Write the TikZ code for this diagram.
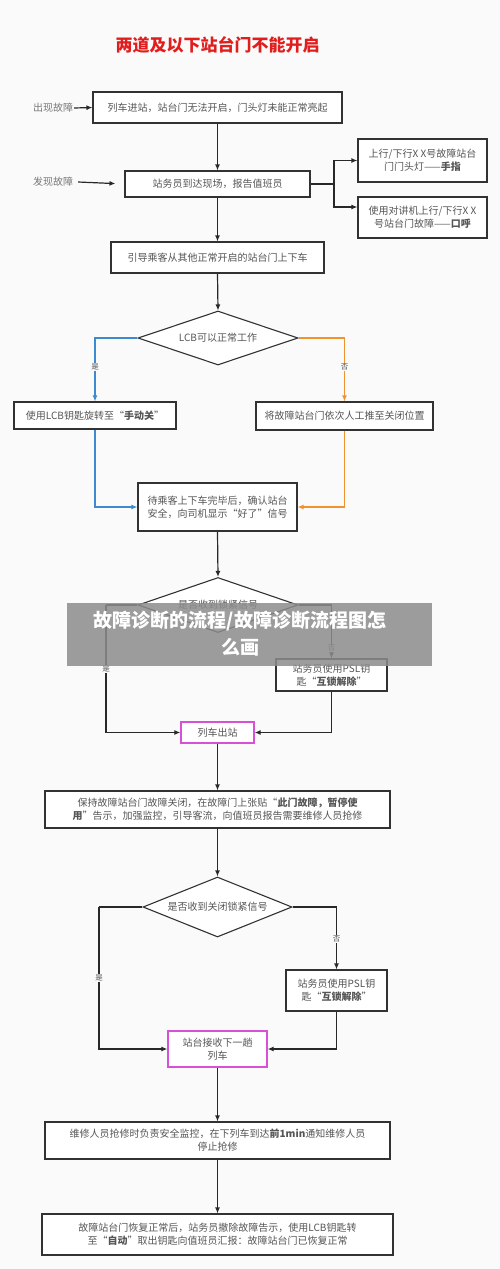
\documentclass[tikz,border=0pt]{standalone}
\usepackage{fontspec}
\setmainfont{Noto Sans CJK SC}
\usetikzlibrary{arrows.meta,shapes.geometric}
\definecolor{bg}{RGB}{250,250,250}
\definecolor{boxc}{RGB}{50,50,50}
\definecolor{txt}{RGB}{85,85,85}
\definecolor{lbl}{RGB}{120,120,120}
\definecolor{linec}{RGB}{40,40,40}
\definecolor{mag}{RGB}{215,80,215}
\definecolor{blueL}{RGB}{60,138,208}
\definecolor{orangeL}{RGB}{240,146,46}
\definecolor{titlered}{RGB}{225,30,30}
\tikzset{
 box/.style={draw=boxc, fill=white, line width=1.1pt, inner sep=1pt, align=center, text=txt, font=\fontsize{10}{13}\selectfont},
 pbox/.style={box, draw=mag, line width=1.3pt},
 dia/.style={diamond, aspect=3, draw=boxc, fill=white, line width=1.1pt, inner sep=0pt, text=txt, font=\fontsize{10}{13}\selectfont},
 conn/.style={draw=linec, line width=1.2pt, -{Latex[length=6pt,width=5pt]}},
 bconn/.style={conn, draw=blueL},
 oconn/.style={conn, draw=orangeL},
 yn/.style={fill=bg, inner sep=1pt, text=txt, font=\fontsize{7.5}{8}\selectfont},
 side/.style={text=lbl, font=\fontsize{10}{12}\selectfont, inner sep=1pt},
}
\begin{document}
\begin{tikzpicture}[x=1pt,y=-1pt]
\fill[bg] (0,0) rectangle (500,1269);
\useasboundingbox (0,0) rectangle (500,1269);

\node[text=titlered, font=\fontsize{17}{20}\selectfont\bfseries] (title) at (217.5,45) {两道及以下站台门不能开启};

\node[box, minimum width=249pt, minimum height=31pt] (b1) at (217.5,107.5) {列车进站，站台门无法开启，门头灯未能正常亮起};
\node[side] (s1) at (53,108) {出现故障};
\node[box, minimum width=185pt, minimum height=26pt] (b2) at (217.5,184) {站务员到达现场，报告值班员};
\node[side] (s2) at (53,182) {发现故障};
\node[box, minimum width=129pt, minimum height=43pt] (r1) at (422.5,160.5) {上行/下行X X号故障站台\\门门头灯——\textbf{手指}};
\node[box, minimum width=129pt, minimum height=41pt] (r2) at (422.5,217.5) {使用对讲机上行/下行X X\\号站台门故障——\textbf{口呼}};
\node[box, minimum width=213pt, minimum height=31pt] (b3) at (217.5,257.5) {引导乘客从其他正常开启的站台门上下车};

\node[dia, minimum width=160pt, minimum height=54pt] (d1) at (218,338) {LCB可以正常工作};
\node[box, minimum width=162pt, minimum height=27pt] (lL) at (95,415.5) {使用LCB钥匙旋转至“\textbf{手动关}”};
\node[box, minimum width=177pt, minimum height=28pt] (lR) at (344.5,416) {将故障站台门依次人工推至关闭位置};
\node[box, minimum width=159pt, minimum height=48pt] (b4) at (217.5,507) {待乘客上下车完毕后，确认站台\\安全，向司机显示“好了”信号};

\node[dia, minimum width=160pt, minimum height=55pt] (d2) at (218,605) {是否收到锁紧信号};
\node[box, minimum width=111pt, minimum height=32pt] (p1) at (331.5,675) {站务员使用PSL钥\\匙“\textbf{互锁解除}”};
\node[pbox, minimum width=73pt, minimum height=21pt] (o1) at (217.5,732.5) {列车出站};
\node[box, minimum width=345pt, minimum height=37pt] (b5) at (217.5,809.5) {保持故障站台门故障关闭，在故障门上张贴“\textbf{此门故障，暂停使}\\\textbf{用}”告示，加强监控，引导客流，向值班员报告需要维修人员抢修};

\node[dia, minimum width=149pt, minimum height=60pt] (d3) at (217.5,907) {是否收到关闭锁紧信号};
\node[box, minimum width=101pt, minimum height=41pt] (p2) at (336.5,990.5) {站务员使用PSL钥\\匙“\textbf{互锁解除}”};
\node[pbox, minimum width=99pt, minimum height=36pt] (n1) at (217.5,1049) {站台接收下一趟\\列车};
\node[box, minimum width=345pt, minimum height=37pt] (b6) at (217.5,1140.5) {维修人员抢修时负责安全监控，在下列车到达\textbf{前1min}通知维修人员\\停止抢修};
\node[box, minimum width=351pt, minimum height=41pt] (b7) at (217.5,1234.5) {故障站台门恢复正常后，站务员撤除故障告示，使用LCB钥匙转\\至“\textbf{自动}”取出钥匙向值班员汇报：故障站台门已恢复正常};

\coordinate (j2) at (334,184);
\coordinate (k2) at (106,605);
\coordinate (k3) at (99,907);

% connectors
\draw[conn] (s1.east) -- (b1.west);
\draw[conn, shorten >=9pt] (s2.east) ++(4,0) -- (b2.west);
\draw[conn] (b1.south) -- (b2.north);
\draw[line width=1.2pt, draw=linec] (b2.east) -- (j2);
\draw[conn] (j2) |- (r1.west);
\draw[conn] (j2) |- ([yshift=10.5pt]r2.west);
\draw[conn] (b2.south) -- (b3.north);
\draw[conn] (b3.south) -- (d1.north);
\draw[bconn] (d1.west) -| (lL.north);
\draw[oconn] (d1.east) -| (lR.north);
\draw[bconn] (lL.south) |- (b4.west);
\draw[oconn] (lR.south) |- (b4.east);
\node[yn] (y1) at (95,367) {是};
\node[yn] (n1l) at (344.5,367) {否};
\draw[conn] (b4.south) -- (d2.north);
\draw[line width=1.2pt, draw=linec] (d2.west) -- (k2);
\draw[conn] (k2) |- (o1.west);
\draw[conn] (d2.east) -| (p1.north);
\draw[conn] (p1.south) |- (o1.east);
\node[yn] (y2) at (106,669) {是};
\node[yn] (n2l) at (331.5,648) {否};
\draw[conn] (o1.south) -- (b5.north);
\draw[conn] (b5.south) -- (d3.north);
\draw[line width=1.2pt, draw=linec] (d3.west) -- (k3);
\draw[conn] (k3) |- (n1.west);
\draw[conn] (d3.east) -| (p2.north);
\draw[conn] (p2.south) |- (n1.east);
\node[yn] (y3) at (99,978) {是};
\node[yn] (n3l) at (336.5,939) {否};
\draw[conn] (n1.south) -- (b6.north);
\draw[conn] (b6.south) -- (b7.north);

% banner overlay
\fill[black!45, fill opacity=0.85] (67,603) rectangle (432,666);
\node[text=white, font=\fontsize{19}{27}\selectfont\bfseries, align=center] (banner) at (240,633.5) {故障诊断的流程/故障诊断流程图怎\\么画};
\end{tikzpicture}
\end{document}
